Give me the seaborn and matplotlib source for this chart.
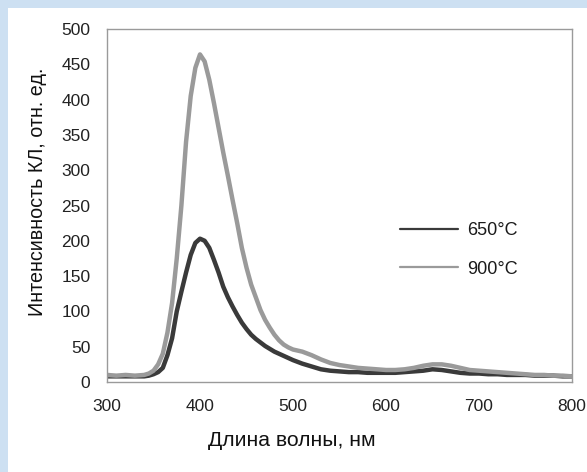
import matplotlib
matplotlib.use("Agg")
import matplotlib.pyplot as plt
from matplotlib.lines import Line2D
from matplotlib.patches import Rectangle
import seaborn as sns
import pandas as pd

# Cathodoluminescence spectra, intensity in arbitrary units
wavelength = [300, 310, 320, 330, 340, 345, 350, 355, 360, 365, 370, 375, 380, 385,
              390, 395, 400, 405, 410, 415, 420, 425, 430, 435, 440, 445, 450, 455,
              460, 465, 470, 475, 480, 485, 490, 495, 500, 510, 520, 530, 540, 550,
              560, 570, 580, 590, 600, 610, 620, 630, 640, 650, 660, 670, 680, 690,
              700, 710, 720, 730, 740, 750, 760, 770, 780, 790, 800]

intensity_650 = [8, 8, 8, 8, 8, 9, 11, 14, 20, 38, 62, 100, 128, 155,
                 180, 197, 203, 200, 190, 173, 155, 135, 120, 107, 95, 84, 75, 67,
                 61, 56, 51, 47, 43, 40, 37, 34, 31, 26, 22, 18, 16, 15,
                 14, 14, 13, 13, 13, 13, 14, 15, 16, 18, 17, 15, 13, 12,
                 12, 11, 11, 10, 10, 10, 9, 9, 9, 8, 8]

intensity_900 = [10, 9, 10, 9, 10, 12, 16, 25, 40, 70, 112, 175, 250, 340,
                 405, 445, 464, 454, 428, 395, 360, 325, 292, 258, 225, 190, 162, 138,
                 120, 102, 88, 77, 67, 59, 53, 49, 46, 43, 38, 32, 27, 24,
                 22, 20, 19, 18, 17, 17, 18, 20, 23, 25, 25, 23, 20, 17,
                 16, 15, 14, 13, 12, 11, 10, 10, 9, 9, 8]

series_names = ["650°C", "900°C"]
series_colors = ["#3a3a3a", "#9a9a9a"]

x_ticks = [300, 400, 500, 600, 700, 800]
y_ticks = [0, 50, 100, 150, 200, 250, 300, 350, 400, 450, 500]

df = pd.DataFrame({
    "wavelength": wavelength * 2,
    "intensity": intensity_650 + intensity_900,
    "series": [series_names[0]] * len(wavelength) + [series_names[1]] * len(wavelength),
})

sns.set_theme(style="white")
plt.rcParams["font.family"] = ["Liberation Sans", "DejaVu Sans"]

fig = plt.figure(figsize=(5.87, 4.72), dpi=100)
fig.patch.set_facecolor("white")
# slide frame strips along the top and left edges
fig.patches.append(Rectangle((0, 1 - 8 / 472), 1, 8 / 472, transform=fig.transFigure,
                             facecolor="#cde0f2", edgecolor="none", zorder=0))
fig.patches.append(Rectangle((0, 0), 8 / 587, 1, transform=fig.transFigure,
                             facecolor="#cde0f2", edgecolor="none", zorder=0))

ax = fig.add_axes([107 / 587, 90 / 472, 465 / 587, 353 / 472])
sns.lineplot(data=df, x="wavelength", y="intensity", hue="series",
             palette=dict(zip(series_names, series_colors)), linewidth=3.2,
             legend=False, ax=ax, estimator=None, sort=False)

ax.set_xlim(300, 800)
ax.set_ylim(0, 500)
ax.set_xticks(x_ticks)
ax.set_yticks(y_ticks)
ax.tick_params(direction="in", length=4, width=0.8, color="#8a8a8a",
               labelsize=12.5, labelcolor="#222222", pad=12)
for side in ["left", "right", "top", "bottom"]:
    ax.spines[side].set_color("#9a9a9a")
    ax.spines[side].set_linewidth(1.0)

ax.set_xlabel("Длина волны, нм", fontsize=15.2, color="#111111")
ax.set_ylabel("Интенсивность КЛ, отн. ед.", fontsize=14.2, color="#111111")
ax.xaxis.set_label_coords(0.398, -0.138)
ax.yaxis.set_label_coords(-0.13, 0.538)

handles = [Line2D([], [], color=c, linewidth=1.6) for c in series_colors]
ax.legend(handles, series_names, loc="upper left", bbox_to_anchor=(0.63, 0.452),
          frameon=False, borderpad=0, borderaxespad=0, handlelength=3.2,
          handletextpad=0.5, labelspacing=1.17,
          prop={"size": 13}, labelcolor="#1a1a1a")

fig.savefig("out.png", dpi=100, facecolor=fig.get_facecolor())
